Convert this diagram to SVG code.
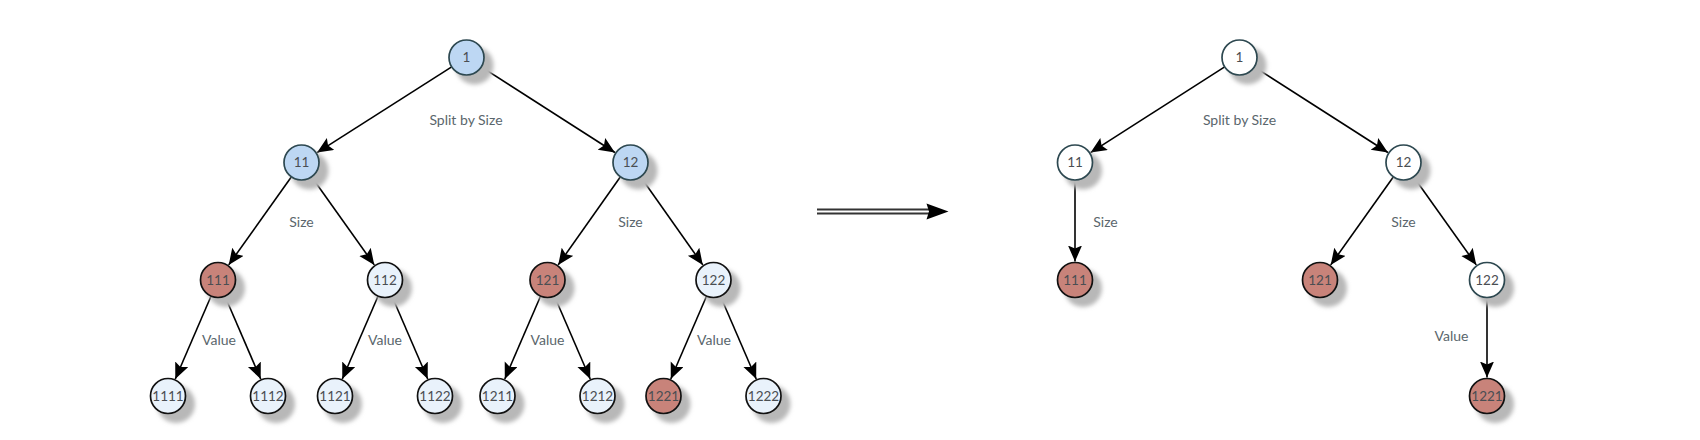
<svg xmlns="http://www.w3.org/2000/svg" width="1700" height="440" viewBox="0 0 1700 440">
<style>
.edge{stroke:#000;stroke-width:1.6;fill:none;marker-end:url(#ah)}
.nd{stroke-width:1.7}
.blue{fill:#bdd7f3;stroke:#2d4850}
.lite{fill:#e9f2fb;stroke:#111}
.red{fill:#c8837a;stroke:#111}
.white{fill:#fff;stroke:#2d4850}
.sh{fill:#b8b8b8;filter:url(#blur)}
.nt{font-family:Lato,"Liberation Sans",sans-serif;font-size:13.5px;fill:#4a4e52;text-anchor:middle}
.lbl{font-family:Lato,"Liberation Sans",sans-serif;font-size:14px;fill:#5a666c;text-anchor:middle}
</style>
<defs>
<filter id="blur" x="-50%" y="-50%" width="200%" height="200%"><feGaussianBlur stdDeviation="2"/></filter>
<marker id="ah" markerUnits="userSpaceOnUse" markerWidth="18" markerHeight="16" refX="16" refY="7" orient="auto"><path d="M0,0 L16,7 L0,14 L3,7 z" fill="#000"/></marker>
</defs>
<rect width="1700" height="440" fill="#fff"/>

<g id="connectors">
<line class="edge" x1="451.3" y1="67.2" x2="317.1" y2="152.6"/>
<line class="edge" x1="481.7" y1="67.2" x2="614.9" y2="152.5"/>
<line class="edge" x1="291.1" y1="177.2" x2="228.7" y2="264.9"/>
<line class="edge" x1="311.9" y1="177.2" x2="374.3" y2="264.9"/>
<line class="edge" x1="620.1" y1="177.2" x2="558.2" y2="264.9"/>
<line class="edge" x1="640.9" y1="177.2" x2="702.8" y2="264.9"/>
<line class="edge" x1="210.9" y1="296.5" x2="175.3" y2="379"/>
<line class="edge" x1="225.1" y1="296.5" x2="260.7" y2="379"/>
<line class="edge" x1="377.9" y1="296.5" x2="342.3" y2="379"/>
<line class="edge" x1="392.1" y1="296.5" x2="427.7" y2="379"/>
<line class="edge" x1="540.4" y1="296.5" x2="504.8" y2="379"/>
<line class="edge" x1="554.6" y1="296.5" x2="590.2" y2="379"/>
<line class="edge" x1="706.4" y1="296.5" x2="670.8" y2="379"/>
<line class="edge" x1="720.6" y1="296.5" x2="756.2" y2="379"/>
<line class="edge" x1="1224.3" y1="67.2" x2="1090.6" y2="152.6"/>
<line class="edge" x1="1254.7" y1="67.2" x2="1387.9" y2="152.5"/>
<line class="edge" x1="1075" y1="180.5" x2="1075" y2="261.5"/>
<line class="edge" x1="1393.1" y1="177.2" x2="1330.7" y2="264.9"/>
<line class="edge" x1="1413.9" y1="177.2" x2="1476.3" y2="264.9"/>
<line class="edge" x1="1487" y1="298" x2="1487" y2="377.5"/>
<line x1="817" y1="211.5" x2="930" y2="211.5" stroke="#333" stroke-width="6"/>
<line x1="817" y1="211.5" x2="931" y2="211.5" stroke="#fff" stroke-width="2"/>
<path d="M926.5,203.5 L948.5,211.5 L926.5,219.5 L929,211.5 z" fill="#000"/>
</g>

<g id="labels">
<text class="lbl" x="466" y="124.5">Split by Size</text>
<text class="lbl" x="301.5" y="226.5">Size</text>
<text class="lbl" x="630.5" y="226.5">Size</text>
<text class="lbl" x="219" y="345">Value</text>
<text class="lbl" x="385" y="345">Value</text>
<text class="lbl" x="547.5" y="345">Value</text>
<text class="lbl" x="714" y="345">Value</text>
<text class="lbl" x="1239.5" y="124.5">Split by Size</text>
<text class="lbl" x="1105.5" y="226.5">Size</text>
<text class="lbl" x="1403.5" y="226.5">Size</text>
<text class="lbl" x="1451.5" y="340.5">Value</text>
</g>

<g id="n1"><circle class="sh" cx="474.5" cy="65.5" r="19"/><circle class="nd blue" cx="466.5" cy="57.5" r="17.5"/><text class="nt" x="466.5" y="62">1</text></g>
<g id="n11"><circle class="sh" cx="309.5" cy="170.5" r="19"/><circle class="nd blue" cx="301.5" cy="162.5" r="17.5"/><text class="nt" x="301.5" y="167">11</text></g>
<g id="n12"><circle class="sh" cx="638.5" cy="170.5" r="19"/><circle class="nd blue" cx="630.5" cy="162.5" r="17.5"/><text class="nt" x="630.5" y="167">12</text></g>
<g id="n111"><circle class="sh" cx="226" cy="288" r="19"/><circle class="nd red" cx="218" cy="280" r="17.5"/><text class="nt" x="218" y="284.5">111</text></g>
<g id="n112"><circle class="sh" cx="393" cy="288" r="19"/><circle class="nd lite" cx="385" cy="280" r="17.5"/><text class="nt" x="385" y="284.5">112</text></g>
<g id="n121"><circle class="sh" cx="555.5" cy="288" r="19"/><circle class="nd red" cx="547.5" cy="280" r="17.5"/><text class="nt" x="547.5" y="284.5">121</text></g>
<g id="n122"><circle class="sh" cx="721.5" cy="288" r="19"/><circle class="nd lite" cx="713.5" cy="280" r="17.5"/><text class="nt" x="713.5" y="284.5">122</text></g>
<g id="n1111"><circle class="sh" cx="176" cy="404" r="19"/><circle class="nd lite" cx="168" cy="396" r="17.5"/><text class="nt" x="168" y="400.5">1111</text></g>
<g id="n1112"><circle class="sh" cx="276" cy="404" r="19"/><circle class="nd lite" cx="268" cy="396" r="17.5"/><text class="nt" x="268" y="400.5">1112</text></g>
<g id="n1121"><circle class="sh" cx="343" cy="404" r="19"/><circle class="nd lite" cx="335" cy="396" r="17.5"/><text class="nt" x="335" y="400.5">1121</text></g>
<g id="n1122"><circle class="sh" cx="443" cy="404" r="19"/><circle class="nd lite" cx="435" cy="396" r="17.5"/><text class="nt" x="435" y="400.5">1122</text></g>
<g id="n1211"><circle class="sh" cx="505.5" cy="404" r="19"/><circle class="nd lite" cx="497.5" cy="396" r="17.5"/><text class="nt" x="497.5" y="400.5">1211</text></g>
<g id="n1212"><circle class="sh" cx="605.5" cy="404" r="19"/><circle class="nd lite" cx="597.5" cy="396" r="17.5"/><text class="nt" x="597.5" y="400.5">1212</text></g>
<g id="n1221"><circle class="sh" cx="671.5" cy="404" r="19"/><circle class="nd red" cx="663.5" cy="396" r="17.5"/><text class="nt" x="663.5" y="400.5">1221</text></g>
<g id="n1222"><circle class="sh" cx="771.5" cy="404" r="19"/><circle class="nd lite" cx="763.5" cy="396" r="17.5"/><text class="nt" x="763.5" y="400.5">1222</text></g>

<g id="r1"><circle class="sh" cx="1247.5" cy="65.5" r="19"/><circle class="nd white" cx="1239.5" cy="57.5" r="17.5"/><text class="nt" x="1239.5" y="62">1</text></g>
<g id="r11"><circle class="sh" cx="1083" cy="170.5" r="19"/><circle class="nd white" cx="1075" cy="162.5" r="17.5"/><text class="nt" x="1075" y="167">11</text></g>
<g id="r12"><circle class="sh" cx="1411.5" cy="170.5" r="19"/><circle class="nd white" cx="1403.5" cy="162.5" r="17.5"/><text class="nt" x="1403.5" y="167">12</text></g>
<g id="r111"><circle class="sh" cx="1083" cy="288" r="19"/><circle class="nd red" cx="1075" cy="280" r="17.5"/><text class="nt" x="1075" y="284.5">111</text></g>
<g id="r121"><circle class="sh" cx="1328" cy="288" r="19"/><circle class="nd red" cx="1320" cy="280" r="17.5"/><text class="nt" x="1320" y="284.5">121</text></g>
<g id="r122"><circle class="sh" cx="1495" cy="288" r="19"/><circle class="nd white" cx="1487" cy="280" r="17.5"/><text class="nt" x="1487" y="284.5">122</text></g>
<g id="r1221"><circle class="sh" cx="1495" cy="404" r="19"/><circle class="nd red" cx="1487" cy="396" r="17.5"/><text class="nt" x="1487" y="400.5">1221</text></g>
</svg>
